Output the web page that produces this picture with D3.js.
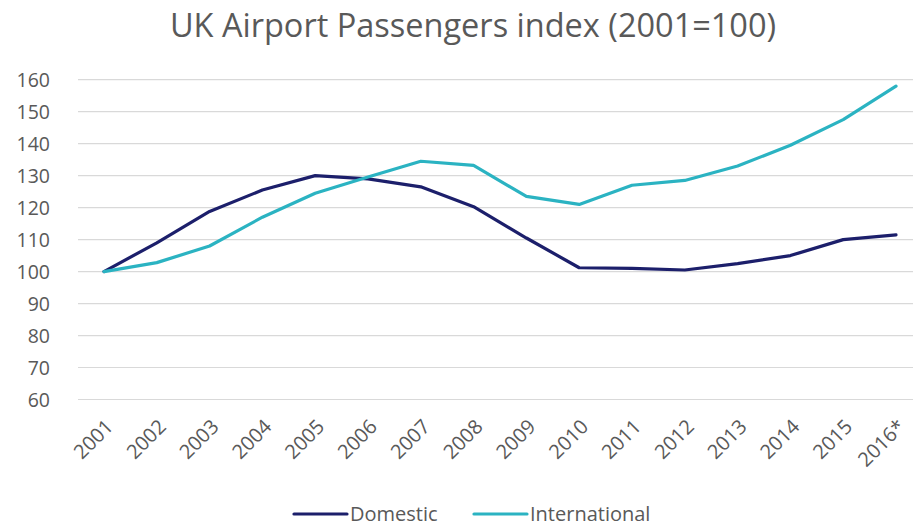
<!DOCTYPE html>
<html>
<head>
<meta charset="utf-8">
<script src="https://cdn.jsdelivr.net/npm/d3@7"></script>
<style>
	body { margin: 0; background: #fff; }
	text { font-family: "Open Sans", sans-serif; fill: #595959; }
</style>
</head>
<body>
<script>
// chart data
var years = ["2001","2002","2003","2004","2005","2006","2007","2008","2009","2010","2011","2012","2013","2014","2015","2016*"];
var domestic = [100, 109, 118.8, 125.5, 130, 129, 126.5, 120.3, 110.5, 101.2, 101, 100.5, 102.5, 105, 110, 111.5];
var international = [100, 102.8, 108, 117, 124.5, 129.6, 134.5, 133.2, 123.5, 121, 127, 128.5, 133, 139.5, 147.5, 158];
var yTicks = [60, 70, 80, 90, 100, 110, 120, 130, 140, 150, 160];
var seriesNames = ["Domestic", "International"];
var seriesColors = ["#1c1f6b", "#2bb3c2"];

var width = 913;
var height = 529;

var svg = d3.select("body").append("svg")
	.attr("width", width)
	.attr("height", height);

// scales
var x = d3.scalePoint()
	.domain(years)
	.range([104, 896]);

var y = d3.scaleLinear()
	.domain([60, 160])
	.range([399.5, 79.7]);

// title
svg.append("text")
	.attr("x", 473)
	.attr("y", 37)
	.attr("text-anchor", "middle")
	.style("font-size", "32.5px")
	.text("UK Airport Passengers index (2001=100)");

// gridlines
svg.selectAll("line.grid")
	.data(yTicks)
	.enter()
	.append("line")
	.attr("class", "grid")
	.attr("x1", 78)
	.attr("x2", width)
	.attr("y1", function(d) { return y(d); })
	.attr("y2", function(d) { return y(d); })
	.attr("stroke", "#d9d9d9")
	.attr("stroke-width", 1.2);

// y axis labels
var yAxis = svg.append("g")
	.attr("transform", "translate(50,0)")
	.call(d3.axisLeft(y).tickValues(yTicks).tickSize(0).tickPadding(0));
yAxis.select(".domain").remove();
yAxis.selectAll("text")
	.style("font-size", "19.5px")
	.attr("fill", "#595959")
	.attr("dy", "0.35em");

// x axis labels, rotated
var xAxis = svg.append("g")
	.attr("transform", "translate(0,412)")
	.call(d3.axisBottom(x).tickSize(0).tickPadding(0));
xAxis.select(".domain").remove();
xAxis.selectAll("text")
	.style("font-size", "20px")
	.attr("fill", "#595959")
	.attr("text-anchor", "end")
	.attr("dy", "0.35em")
	.attr("transform", "translate(5,11) rotate(-45)");

// lines
var line = d3.line()
	.x(function(d, i) { return x(years[i]); })
	.y(function(d) { return y(d); });

var allSeries = [domestic, international];
svg.selectAll("path.series")
	.data(allSeries)
	.enter()
	.append("path")
	.attr("class", "series")
	.attr("d", line)
	.attr("fill", "none")
	.attr("stroke", function(d, i) { return seriesColors[i]; })
	.attr("stroke-width", 3.2)
	.attr("stroke-linejoin", "round")
	.attr("stroke-linecap", "round");

// legend
var legendX = [294, 474];
var legend = svg.selectAll("g.legend")
	.data(seriesNames)
	.enter()
	.append("g")
	.attr("class", "legend")
	.attr("transform", function(d, i) { return "translate(" + legendX[i] + ",514)"; });

legend.append("line")
	.attr("x1", 0)
	.attr("x2", 53)
	.attr("stroke", function(d, i) { return seriesColors[i]; })
	.attr("stroke-width", 3.2)
	.attr("stroke-linecap", "round");

legend.append("text")
	.attr("x", 56)
	.attr("dy", "0.35em")
	.style("font-size", "20px")
	.text(function(d) { return d; });
</script>
</body>
</html>
